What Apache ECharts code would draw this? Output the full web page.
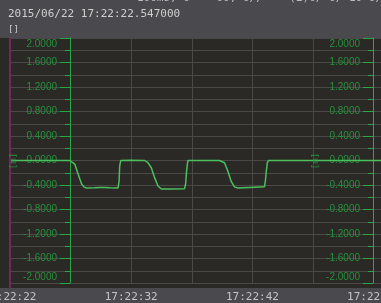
<!DOCTYPE html>
<html>
<head>
<meta charset="utf-8">
<script src="https://cdn.jsdelivr.net/npm/echarts@6/dist/echarts.min.js"></script>
<style>
html,body{margin:0;padding:0;background:#2a2926;}
#c{width:381px;height:303px;}
</style>
</head>
<body>
<div id="c"></div>
<script>
// seconds after 17:22:22
var times = [0, 2.47, 4.94, 5.10, 5.35, 5.62, 5.90, 6.09, 6.31, 7.0, 7.41, 7.82, 8.23, 8.91, 9.0, 9.05, 9.14,
  9.88, 11.11, 11.38, 11.66, 11.93, 12.21, 12.49, 13.17, 14.40, 14.49, 14.57, 14.67,
  15.64, 17.28, 17.70, 17.97, 18.24, 18.52, 18.79, 19.75, 20.99, 21.07, 21.15, 21.23, 21.32, 30.61];
var values = [0, 0, 0, -0.01, -0.06, -0.22, -0.38, -0.43, -0.45, -0.445, -0.44, -0.44, -0.445, -0.45, -0.335, -0.09, 0,
  0.005, 0, -0.036, -0.118, -0.28, -0.416, -0.465, -0.465, -0.46, -0.384, -0.171, 0,
  0, 0, -0.036, -0.171, -0.335, -0.43, -0.449, -0.44, -0.43, -0.335, -0.171, -0.04, 0, 0];
var yTicks = [-2, -1.6, -1.2, -0.8, -0.4, 0, 0.4, 0.8, 1.2, 1.6, 2];
var headerText = '2015/06/22 17:22:22.547000';
var topCutText = '100ms, 0    00, 0//    (2)0/ 0/ 10 0/ 10/ 10 10/ 10/ 10';
var unitLabel = '[m]';

var chart = echarts.init(document.getElementById('c'), null, {renderer: 'canvas'});

var green = '#2aa846';
var labelGreen = '#26913c';
var gridGray = '#4a4947';

function yFmt(v) {
  var s = v.toFixed(4);
  if (Math.abs(v - 2) < 1e-9) return '{t|' + s + '}';
  if (Math.abs(v + 2) < 1e-9) return '{b|' + s + '}';
  return s;
}
var yRich = {
  t: {padding: [12, 0, 0, 0], color: labelGreen, fontSize: 10, fontFamily: 'Liberation Sans'},
  b: {padding: [0, 0, 12, 0], color: labelGreen, fontSize: 10, fontFamily: 'Liberation Sans'}
};

function yAxisCfg(offset, grid) {
  return {
    type: 'value',
    min: yTicks[0], max: yTicks[yTicks.length - 1], interval: 0.4,
    position: 'left',
    offset: offset,
    axisLine: {show: true, onZero: false, lineStyle: {color: green, width: 1}},
    axisTick: {show: true, length: 10, lineStyle: {color: green}},
    minorTick: {show: true, splitNumber: 2, length: 5, lineStyle: {color: green}},
    splitLine: {show: grid, lineStyle: {color: gridGray, width: 1}},
    minorSplitLine: {show: grid, lineStyle: {color: gridGray, width: 1}},
    axisLabel: {
      margin: 13, color: labelGreen, fontSize: 10,
      fontFamily: 'Liberation Sans', formatter: yFmt, rich: yRich
    }
  };
}

chart.setOption({
  backgroundColor: '#2a2926',
  animation: false,
  grid: {left: 10, right: 0, top: 38, bottom: 20, containLabel: false, outerBoundsMode: 'none'},
  xAxis: {
    type: 'value', min: 0, max: 30.61, interval: 5,
    axisLine: {show: false}, axisTick: {show: false},
    splitLine: {show: true, lineStyle: {color: gridGray, width: 1}},
    axisLabel: {
      margin: 9, color: '#c4c4c4', fontSize: 11, fontFamily: 'DejaVu Sans Mono',
      showMinLabel: true, showMaxLabel: true, hideOverlap: false,
      formatter: function (v) {
        if (Math.abs(v % 10) < 1e-6) return '17:22:' + (22 + v);
        return '';
      }
    }
  },
  yAxis: [yAxisCfg(-60, true), yAxisCfg(-363, false)],
  graphic: [
    {type: 'rect', z: -10, silent: true, shape: {x: 0, y: 0, width: 381, height: 38}, style: {fill: '#4a494e'}},
    {type: 'rect', z: -10, silent: true, shape: {x: 0, y: 288, width: 381, height: 15}, style: {fill: '#4a494e'}},
    {type: 'rect', z: 5, silent: true, shape: {x: 9, y: 38, width: 2, height: 250}, style: {fill: '#6e2a5c'}},
    {type: 'text', z: 5, x: 8, y: 14, style: {text: headerText, fill: '#cfcfcf', font: '11px "DejaVu Sans Mono"', verticalAlign: 'middle'}},
    {type: 'text', z: 5, x: 137, y: 4, style: {text: topCutText, fill: '#bdbdbd', font: '11px "DejaVu Sans Mono"', verticalAlign: 'bottom'}},
    {type: 'text', z: 5, x: 8, y: 30, style: {text: '[]', fill: '#cfcfcf', font: '9px "DejaVu Sans Mono"', verticalAlign: 'middle'}},
    {type: 'text', z: 5, x: 14, y: 161, rotation: Math.PI / 2, style: {text: unitLabel, fill: labelGreen, font: '9px "DejaVu Sans Mono"', align: 'center', verticalAlign: 'middle'}},
    {type: 'text', z: 5, x: 316, y: 161, rotation: Math.PI / 2, style: {text: unitLabel, fill: labelGreen, font: '9px "DejaVu Sans Mono"', align: 'center', verticalAlign: 'middle'}}
  ],
  series: [{
    type: 'line',
    yAxisIndex: 0,
    data: times.map(function (t, i) { return [t, values[i]]; }),
    showSymbol: false,
    lineStyle: {color: '#4cc05e', width: 1.5},
    z: 4
  }]
});
</script>
</body>
</html>
